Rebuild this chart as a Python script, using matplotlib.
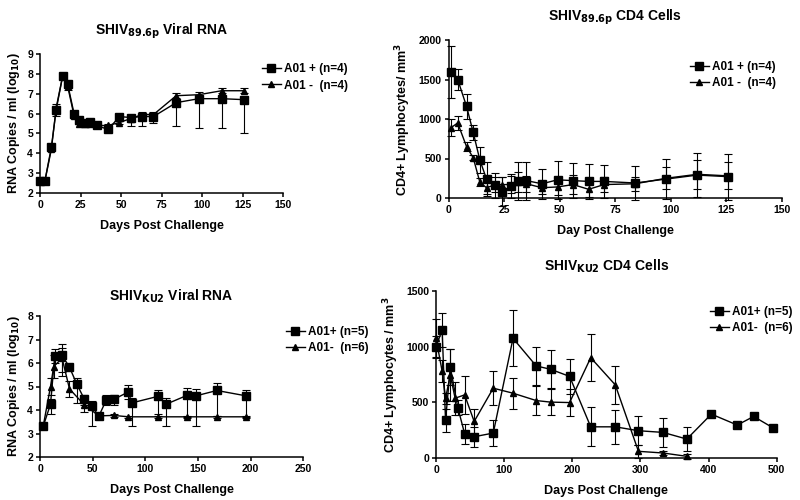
import numpy as np
import matplotlib.pyplot as plt
from matplotlib.lines import Line2D

plt.rcParams['font.family'] = ['Liberation Sans', 'DejaVu Sans']
plt.rcParams['font.weight'] = 'bold'
plt.rcParams['axes.labelweight'] = 'bold'
plt.rcParams['mathtext.default'] = 'bf'

# SHIV 89.6p viral RNA  (errors given as lower, upper)
rna1_days = [0, 3, 7, 10, 14, 17, 21, 24, 28, 31, 35, 42, 49, 56, 63, 70, 84, 98, 112, 126]
rna1_pos = [2.6, 2.6, 4.3, 6.2, 7.9, 7.5, 6.0, 5.7, 5.55, 5.6, 5.4, 5.2, 5.85, 5.8, 5.85, 5.85, 6.55, 6.75, 6.75, 6.7]
rna1_pos_lo = [0.05, 0.05, 0.2, 0.3, 0.1, 0.3, 0.2, 0.2, 0.2, 0.25, 0.1, 0.1, 0.1, 0.45, 0.5, 0.3, 1.2, 1.5, 1.5, 1.7]
rna1_pos_up = [0.05, 0.05, 0.1, 0.1, 0.1, 0.1, 0.1, 0.1, 0.1, 0.15, 0.05, 0.05, 0.1, 0.15, 0.1, 0.1, 0.1, 0.1, 0.1, 0.1]
rna1_neg = [2.6, 2.6, 4.2, 6.3, 7.9, 7.4, 5.9, 5.5, 5.5, 5.5, 5.4, 5.4, 5.55, 5.75, 5.95, 5.95, 6.9, 6.95, 7.15, 7.15]
rna1_neg_lo = [0.05, 0.05, 0.1, 0.1, 0.1, 0.1, 0.1, 0.05, 0.1, 0.1, 0.05, 0.05, 0.05, 0.1, 0.1, 0.1, 0.1, 0.1, 0.1, 0.1]
rna1_neg_up = [0.05, 0.05, 0.15, 0.2, 0.1, 0.2, 0.15, 0.1, 0.1, 0.15, 0.1, 0.1, 0.1, 0.15, 0.15, 0.15, 0.15, 0.12, 0.15, 0.15]

# SHIV 89.6p CD4 cells
cd1_days = [1, 4, 8, 11, 14, 17, 21, 24, 28, 31, 35, 42, 49, 56, 63, 70, 84, 98, 112, 126]
cd1_pos = [1590, 1500, 1160, 830, 480, 240, 160, 80, 150, 210, 220, 180, 230, 220, 210, 210, 190, 240, 290, 270]
cd1_pos_err = [330, 130, 160, 100, 160, 210, 160, 180, 150, 240, 240, 190, 240, 220, 220, 210, 210, 250, 280, 290]
cd1_neg = [890, 950, 650, 510, 200, 130, 170, 170, 170, 200, 180, 130, 140, 170, 110, 170, 180, 250, 300, 280]
cd1_neg_err = [110, 90, 60, 30, 50, 80, 100, 100, 110, 130, 100, 80, 100, 120, 100, 100, 90, 140, 180, 170]

# SHIV KU2 viral RNA
rna2_pos_days = [3, 10, 14, 21, 28, 35, 42, 49, 56, 63, 70, 84, 87, 112, 120, 140, 148, 168, 196]
rna2_pos = [3.3, 4.25, 6.3, 6.33, 5.82, 5.1, 4.47, 4.15, 3.75, 4.43, 4.45, 4.77, 4.3, 4.58, 4.25, 4.63, 4.6, 4.83, 4.6]
rna2_pos_lo = [0.05, 0.4, 0.3, 0.9, 0.1, 0.8, 0.25, 0.85, 0.15, 0.2, 0.25, 0.3, 1.0, 0.75, 0.95, 0.92, 1.3, 1.1, 0.9]
rna2_pos_up = [0.05, 0.2, 0.3, 0.3, 0.1, 0.25, 0.15, 0.25, 0.1, 0.2, 0.2, 0.28, 0.2, 0.25, 0.25, 0.3, 0.3, 0.3, 0.25]
rna2_neg_days = [3, 10, 13, 21, 28, 42, 56, 70, 84, 112, 140, 168, 196]
rna2_neg = [3.3, 5.0, 5.85, 6.2, 4.9, 4.22, 3.75, 3.77, 3.71, 3.71, 3.71, 3.71, 3.71]
rna2_neg_err = [0.05, 0.35, 0.5, 0.6, 0.35, 0.3, 0.1, 0.05, 0.05, 0.05, 0.05, 0.05, 0.05]

# SHIV KU2 CD4 cells
cd2_pos_days = [0, 9, 14, 21, 32, 42, 56, 84, 113, 147, 168, 196, 227, 263, 297, 333, 368, 404, 442, 466, 495]
cd2_pos = [1000, 1150, 337, 815, 453, 218, 191, 224, 1075, 827, 797, 733, 280, 280, 245, 230, 170, 394, 296, 373, 269]
cd2_pos_err = [100, 150, 100, 160, 70, 90, 90, 120, 250, 170, 170, 160, 175, 150, 130, 130, 110, 0, 0, 0, 0]
cd2_neg_days = [0, 9, 14, 21, 28, 42, 56, 84, 113, 147, 168, 196, 227, 263, 297, 333, 368]
cd2_neg = [1075, 780, 537, 746, 537, 567, 328, 627, 582, 516, 502, 498, 901, 657, 60, 45, 15]
cd2_neg_err = [170, 100, 50, 230, 150, 170, 110, 150, 140, 130, 120, 120, 210, 170, 60, 20, 20]

fig = plt.figure(figsize=(8, 5), dpi=100)


def panel(rect, title, xlab, ylab, xlim, xticks, ylim, yticks, series, leg_anchor, title_y=1.08):
    ax = fig.add_axes(rect)
    handles = []
    for x, y, e, mk, ms, lab in series:
        ax.errorbar(x, y, yerr=e, color='black', marker=mk, ms=ms, lw=1, elinewidth=0.8,
                    capsize=3, capthick=0.8, clip_on=False, zorder=3)
        handles.append(Line2D([], [], color='black', marker=mk, ms=ms, lw=1, label=lab))
    ax.set_xlim(*xlim)
    ax.set_ylim(*ylim)
    ax.set_xticks(xticks)
    ax.set_yticks(yticks)
    ax.spines['top'].set_visible(False)
    ax.spines['right'].set_visible(False)
    ax.spines['left'].set_linewidth(1.1)
    ax.spines['bottom'].set_linewidth(1.1)
    ax.tick_params(labelsize=7.5, length=3, width=1.1, pad=2)
    for lbl in ax.get_xticklabels() + ax.get_yticklabels():
        lbl.set_fontweight('bold')
    ax.set_xlabel(xlab, fontsize=9, labelpad=7)
    ax.set_ylabel(ylab, fontsize=9, labelpad=4)
    ax.set_title(title, fontsize=10, fontweight='bold', y=title_y)
    ax.legend(handles=handles, loc='upper left', bbox_to_anchor=leg_anchor,
              bbox_transform=fig.transFigure, frameon=False, handlelength=1.6,
              handletextpad=0.3, labelspacing=0.35, borderpad=0,
              prop={'weight': 'bold', 'size': 8.5})
    return ax


panel([0.05, 0.614, 0.304, 0.278], r'SHIV$_{89.6p}$ Viral RNA', 'Days Post Challenge',
      r'RNA Copies / ml (log$_{10}$)', (0, 150), range(0, 151, 25), (2, 9), range(2, 10),
      [(rna1_days, rna1_pos, [rna1_pos_lo, rna1_pos_up], 's', 6, 'A01 + (n=4)'),
       (rna1_days, rna1_neg, [rna1_neg_lo, rna1_neg_up], '^', 5, 'A01 -  (n=4)')],
      (0.32, 0.885), title_y=1.08)

panel([0.561, 0.604, 0.416, 0.316], r'SHIV$_{89.6p}$ CD4 Cells', 'Day Post Challenge',
      r'CD4+ Lymphocytes/ mm$^3$', (0, 150), range(0, 151, 25), (0, 2000), range(0, 2001, 500),
      [(cd1_days, cd1_pos, cd1_pos_err, 's', 6, 'A01 + (n=4)'),
       (cd1_days, cd1_neg, cd1_neg_err, '^', 5, 'A01 -  (n=4)')],
      (0.855, 0.89), title_y=1.07)

panel([0.05, 0.086, 0.329, 0.282], r'SHIV$_{KU2}$ Viral RNA', 'Days Post Challenge',
      r'RNA Copies / ml (log$_{10}$)', (0, 250), range(0, 251, 50), (2, 8), range(2, 9),
      [(rna2_pos_days, rna2_pos, [rna2_pos_lo, rna2_pos_up], 's', 6, 'A01+ (n=5)'),
       (rna2_neg_days, rna2_neg, rna2_neg_err, '^', 5, 'A01-  (n=6)')],
      (0.35, 0.36), title_y=1.05)

panel([0.545, 0.084, 0.426, 0.334], r'SHIV$_{KU2}$ CD4 Cells', 'Days Post Challenge',
      r'CD4+ Lymphocytes / mm$^3$', (0, 500), range(0, 501, 100), (0, 1500), range(0, 1501, 500),
      [(cd2_pos_days, cd2_pos, cd2_pos_err, 's', 6, 'A01+ (n=5)'),
       (cd2_neg_days, cd2_neg, cd2_neg_err, '^', 5, 'A01-  (n=6)')],
      (0.88, 0.40), title_y=1.07)

fig.savefig('out.png', dpi=100)
